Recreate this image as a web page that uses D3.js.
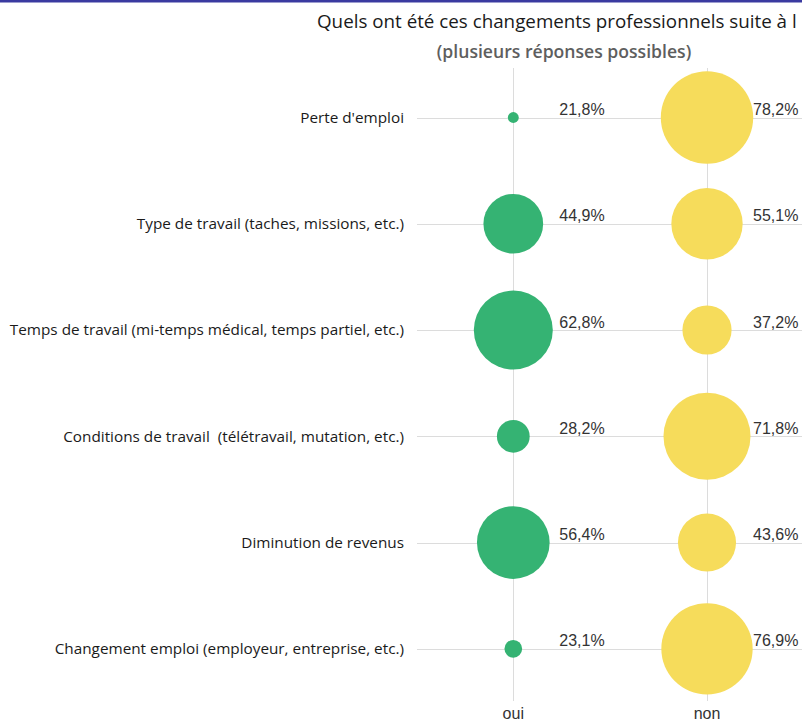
<!DOCTYPE html>
<html>
<head>
<meta charset="utf-8">
<script src="https://cdn.jsdelivr.net/npm/d3@7"></script>
<style>
  html, body { margin: 0; padding: 0; background: #fff; }
  svg { display: block; }
</style>
</head>
<body>
<svg id="chart" width="802" height="722"></svg>
<script>
// Survey answers: share of "oui" / "non" for each professional change
const categories = [
  "Perte d'emploi",
  "Type de travail (taches, missions, etc.)",
  "Temps de travail (mi-temps médical, temps partiel, etc.)",
  "Conditions de travail  (télétravail, mutation, etc.)",
  "Diminution de revenus",
  "Changement emploi (employeur, entreprise, etc.)"
];
const answers = ["oui", "non"];
const ouiValues = [21.8, 44.9, 62.8, 28.2, 56.4, 23.1];
const nonValues = [78.2, 55.1, 37.2, 71.8, 43.6, 76.9];
const titleText = "Quels ont été ces changements professionnels suite à l";
const subtitleText = "(plusieurs réponses possibles)";

const colors = { oui: "#35b373", non: "#f6dc5b" };
const FONT = "'Open Sans', Lato, sans-serif";

const svg = d3.select("#chart");
const W = 802, H = 722;

// top rule
svg.append("rect").attr("x", 0).attr("y", 0).attr("width", W).attr("height", 2.5)
  .attr("fill", "#3a3aa0");

const y = d3.scalePoint().domain(categories).range([117.5, 648.8]);
const x = d3.scalePoint().domain(answers).range([513.3, 707]);

// bubble area grows linearly with the share above the smallest bubble level
const area = d3.scaleLinear().domain([21.0, 78.2]).range([0, 46.2 * 46.2]);
const radius = v => Math.sqrt(Math.max(0, area(v)));

const fr = d3.formatLocale({ decimal: ",", thousands: " ", grouping: [3], currency: ["", "€"] });
const pct = v => fr.format(".1f")(v) + "%";

const grid = svg.append("g").attr("stroke", "#dcdcdc").attr("stroke-width", 1);
// horizontal row lines
grid.selectAll("line.h").data(categories).join("line")
  .attr("x1", 417).attr("x2", W)
  .attr("y1", d => Math.round(y(d)) + 0.5).attr("y2", d => Math.round(y(d)) + 0.5);
// vertical column lines
grid.selectAll("line.v").data(answers).join("line")
  .attr("x1", d => Math.round(x(d)) + 0.5).attr("x2", d => Math.round(x(d)) + 0.5)
  .attr("y1", 68).attr("y2", 701);

// category labels
svg.append("g").selectAll("text").data(categories).join("text")
  .attr("x", 404).attr("y", d => y(d)).attr("dy", "0.35em")
  .attr("text-anchor", "end")
  .attr("font-family", FONT)
  .attr("font-size", 15.3).attr("fill", "#1a1a1a")
  .style("white-space", "pre")
  .text(d => d);

const rows = [];
categories.forEach((c, i) => {
  rows.push({ cat: c, ans: "oui", v: ouiValues[i] });
  rows.push({ cat: c, ans: "non", v: nonValues[i] });
});

// bubbles
svg.append("g").selectAll("circle").data(rows).join("circle")
  .attr("cx", d => x(d.ans)).attr("cy", d => y(d.cat))
  .attr("r", d => radius(d.v))
  .attr("fill", d => colors[d.ans]);

// value labels
svg.append("g").selectAll("text").data(rows).join("text")
  .attr("x", d => x(d.ans) + 46).attr("y", d => y(d.cat) - 2.5)
  .attr("font-family", "'Liberation Sans', Arial, sans-serif")
  .attr("font-size", 16).attr("fill", "#333")
  .text(d => pct(d.v));

// column labels
svg.append("g").selectAll("text").data(answers).join("text")
  .attr("x", d => x(d)).attr("y", 719)
  .attr("text-anchor", "middle")
  .attr("font-family", "'Liberation Sans', Arial, sans-serif")
  .attr("font-size", 16).attr("fill", "#333")
  .text(d => d);

// title
svg.append("text").attr("x", 317).attr("y", 28)
  .attr("font-family", FONT)
  .attr("font-size", 18.8).attr("fill", "#1a1a1a")
  .text(titleText);

svg.append("text").attr("x", 564).attr("y", 58)
  .attr("text-anchor", "middle")
  .attr("font-family", FONT)
  .attr("font-weight", 600)
  .attr("font-size", 17.6).attr("fill", "#5e5e5e")
  .text(subtitleText);
</script>
</body>
</html>
